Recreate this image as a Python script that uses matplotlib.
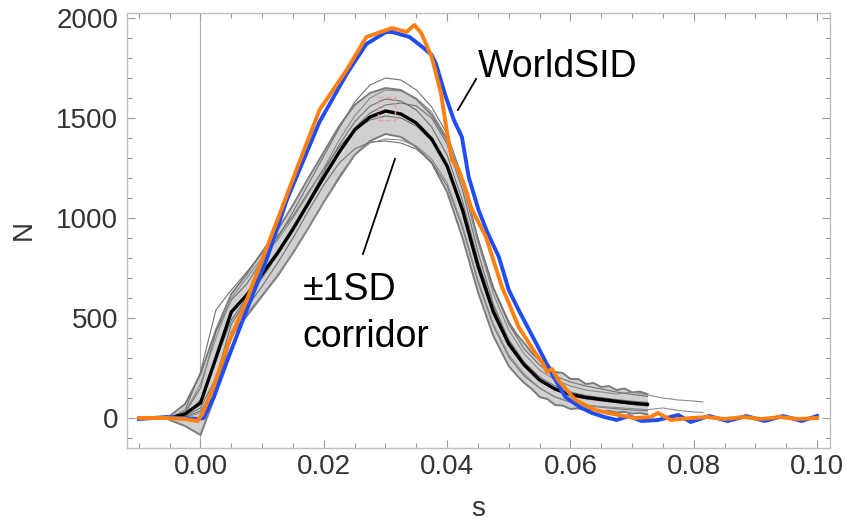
import numpy as np
import matplotlib.pyplot as plt
from matplotlib.patches import Rectangle

plt.rcParams['font.family'] = ['Liberation Sans', 'DejaVu Sans']

# --- test runs (gray), mean and ±1SD corridor ---
grid = [-0.005, -0.0025, 0.0, 0.0025, 0.005, 0.0075, 0.01, 0.0125, 0.015, 0.0175,
        0.02, 0.0225, 0.025, 0.0275, 0.03, 0.0325, 0.035, 0.0375, 0.04, 0.0425,
        0.045, 0.0475, 0.05, 0.0525, 0.055, 0.0575, 0.06, 0.0625, 0.065, 0.0675,
        0.07, 0.0725]
grid_long = grid + [0.075, 0.0775, 0.08, 0.0815]

mean_N = [0, 20, 75, 300, 530, 615, 720, 825, 945, 1075, 1205, 1330, 1440, 1505,
          1535, 1520, 1475, 1395, 1260, 1040, 760, 530, 370, 265, 190, 145, 118,
          103, 93, 83, 74, 68]

# corridor edges (finer spacing in the wavy tail)
band_s = [-0.005, -0.0025, 0.0, 0.0025, 0.005, 0.0075, 0.01, 0.0125, 0.015, 0.0175,
          0.02, 0.0225, 0.025, 0.0275, 0.03, 0.0325, 0.035, 0.0375, 0.04, 0.0425,
          0.045, 0.0475, 0.05, 0.05125, 0.0525, 0.05375, 0.055, 0.05625, 0.0575,
          0.05875, 0.06, 0.06125, 0.0625, 0.06375, 0.065, 0.06625, 0.0675, 0.06875,
          0.07, 0.07125, 0.0725]
upper_N = [10, 70, 220, 440, 620, 720, 830, 940, 1065, 1200, 1330, 1460, 1565, 1625,
           1650, 1640, 1595, 1515, 1390, 1180, 890, 650, 480, 420, 375, 325, 290,
           270, 230, 225, 195, 195, 170, 175, 155, 160, 140, 148, 128, 132, 120]
lower_N = [-10, -40, -85, 120, 420, 510, 610, 710, 825, 950, 1080, 1200, 1315, 1385,
           1420, 1405, 1355, 1275, 1130, 900, 630, 410, 260, 215, 175, 145, 105, 95,
           65, 62, 45, 48, 38, 42, 32, 36, 27, 31, 22, 25, 18]

run_a = [0, 25, 150, 430, 590, 670, 790, 900, 1030, 1170, 1310, 1450, 1580, 1665,
         1700, 1690, 1640, 1555, 1420, 1200, 900, 650, 470, 345, 265, 210, 180, 160,
         145, 130, 118, 108]
run_b = [0, 10, 50, 200, 470, 590, 700, 815, 945, 1085, 1230, 1365, 1480, 1560,
         1595, 1585, 1540, 1455, 1315, 1085, 790, 550, 380, 265, 185, 140, 110, 95,
         85, 78, 68, 60]
run_c = [0, 5, 25, 120, 400, 520, 615, 715, 825, 950, 1080, 1210, 1315, 1375, 1395,
         1390, 1360, 1295, 1175, 960, 690, 470, 315, 220, 150, 105, 78, 65, 57, 52,
         47, 42, 50, 38, 30, 28]
run_d = [0, 40, 230, 540, 640, 730, 825, 910, 1010, 1130, 1245, 1355, 1440, 1490,
         1510, 1500, 1460, 1385, 1255, 1050, 780, 550, 390, 280, 205, 160, 130, 112,
         102, 92, 84, 78]
run_e = [0, 15, 90, 290, 490, 600, 710, 815, 935, 1065, 1200, 1335, 1450, 1525,
         1565, 1575, 1560, 1500, 1370, 1140, 830, 570, 390, 275, 190, 145, 115, 98,
         88, 78, 68, 62]
run_f = [0, 5, 35, 150, 430, 550, 660, 775, 900, 1035, 1165, 1275, 1345, 1380, 1385,
         1375, 1345, 1280, 1160, 950, 680, 460, 305, 210, 150, 105, 80, 62, 54, 46,
         40, 36]
run_g = [0, 30, 170, 400, 600, 700, 800, 890, 1000, 1120, 1250, 1390, 1510, 1600,
         1640, 1635, 1600, 1530, 1400, 1180, 880, 620, 440, 320, 240, 190, 160, 140,
         130, 120, 130, 115, 100, 90, 85, 80]

# --- WorldSID (blue / orange) ---
blue_s = [-0.0100, -0.0055, -0.0005, 0.0005, 0.0021, 0.0045, 0.0075, 0.0108, 0.0140,
          0.0193, 0.0237, 0.0269, 0.0301, 0.0311, 0.0339, 0.0360, 0.0375, 0.0382,
          0.0398, 0.0411, 0.0424, 0.0435, 0.0451, 0.0465, 0.0484, 0.0500, 0.0516,
          0.0545, 0.0570, 0.0592, 0.0615, 0.0635, 0.0655, 0.0675, 0.0695, 0.0715,
          0.0742, 0.0775, 0.0795, 0.0825, 0.0855, 0.0885, 0.0915, 0.0945, 0.0975,
          0.1000]
blue_N = [-5, 5, -5, 0, 100, 300, 540, 800, 1090, 1480, 1720, 1870, 1930, 1930, 1905,
          1855, 1815, 1770, 1605, 1490, 1405, 1205, 1040, 930, 805, 640, 540, 370,
          220, 105, 55, 25, 5, -10, 10, -15, -10, 15, -20, 10, -15, 10, -15, 10,
          -15, 10]

orange_s = [-0.0100, -0.0055, -0.0025, -0.0005, 0.0003, 0.0021, 0.0043, 0.0075,
            0.0108, 0.0145, 0.0193, 0.0237, 0.0269, 0.0311, 0.0334, 0.0347, 0.0358,
            0.0375, 0.0390, 0.0400, 0.0408, 0.0419, 0.0432, 0.0439, 0.0463, 0.0489,
            0.0496, 0.0516, 0.0543, 0.0555, 0.0562, 0.0570, 0.0580, 0.0608, 0.0640,
            0.0661, 0.0705, 0.0730, 0.0742, 0.0763, 0.0795, 0.0822, 0.0850, 0.0880,
            0.0910, 0.0940, 0.0970, 0.1000]
orange_N = [0, 0, -5, -15, 20, 155, 355, 590, 855, 1155, 1540, 1740, 1905, 1950, 1930,
            1965, 1925, 1805, 1625, 1425, 1290, 1240, 1125, 1050, 905, 655, 605, 455,
            325, 275, 230, 245, 190, 90, 40, 25, 0, 5, 25, -10, 0, 5, -5, 5, -5, 5,
            -5, 0]

fig = plt.figure(figsize=(8.46, 5.26), dpi=100)
ax = fig.add_axes([126.5 / 846, 78 / 526, 703.5 / 846, 435 / 526])

ax.axvline(0, color='#b0b0b0', lw=0.8, zorder=0)

ax.fill_between(band_s, lower_N, upper_N, color='#d0d0d0', lw=0, zorder=1)
ax.plot(band_s, upper_N, color='#7c7c7c', lw=1.4, zorder=2)
ax.plot(band_s, lower_N, color='#7c7c7c', lw=1.4, zorder=2)
for run in [run_a, run_b, run_d, run_e, run_f]:
    ax.plot(grid, run, color='#727272', lw=0.8, zorder=2)
for run in [run_c, run_g]:
    ax.plot(grid_long, run, color='#8a8a8a', lw=0.8, zorder=2)
ax.plot(grid, mean_N, color='black', lw=2.4, zorder=3)

ax.plot(blue_s, blue_N, color='#1f4df5', lw=2.8, zorder=4)
ax.plot(orange_s, orange_N, color='#ff7f0f', lw=2.8, zorder=5)

# faint red marker near the corridor peak
ax.add_patch(Rectangle((0.0288, 1490), 0.0027, 115, fill=False, ec='#e8a0a0',
                       lw=1.0, ls='--', zorder=6))

# annotations
ax.plot([0.04175, 0.0447], [1540, 1695], color='black', lw=1.3, zorder=6)
ax.text(0.0450, 1705, 'WorldSID', fontsize=27, ha='left', va='baseline')
ax.plot([0.02635, 0.03154], [820, 1295], color='black', lw=1.3, zorder=6)
ax.text(0.0166, 590, '±1SD', fontsize=27, ha='left', va='baseline')
ax.text(0.0166, 355, 'corridor', fontsize=27, ha='left', va='baseline')

ax.set_xlim(-0.012, 0.1021)
ax.set_ylim(-150, 2025)
ax.set_xticks([0.0, 0.02, 0.04, 0.06, 0.08, 0.10])
ax.set_xticklabels(['0.00', '0.02', '0.04', '0.06', '0.08', '0.10'])
ax.set_yticks([0, 500, 1000, 1500, 2000])
ax.set_xticks(np.arange(-0.01, 0.1001, 0.005), minor=True)
ax.set_yticks(np.arange(-100, 2001, 100), minor=True)

for sp in ax.spines.values():
    sp.set_color('#bdbdbd')
    sp.set_linewidth(1.0)
ax.tick_params(which='both', direction='in', top=True, right=True,
               color='#9a9a9a', labelcolor='#333333', labelsize=20)
ax.tick_params(which='major', length=6, width=0.8)
ax.tick_params(which='minor', length=3.5, width=0.8)
ax.tick_params(axis='x', which='major', pad=4)
ax.tick_params(axis='y', which='major', pad=6)

ax.set_xlabel('s', fontsize=20, color='#333333', labelpad=12)
ax.set_ylabel('N', fontsize=20, color='#333333', labelpad=14)

fig.savefig('out.png', dpi=100)
